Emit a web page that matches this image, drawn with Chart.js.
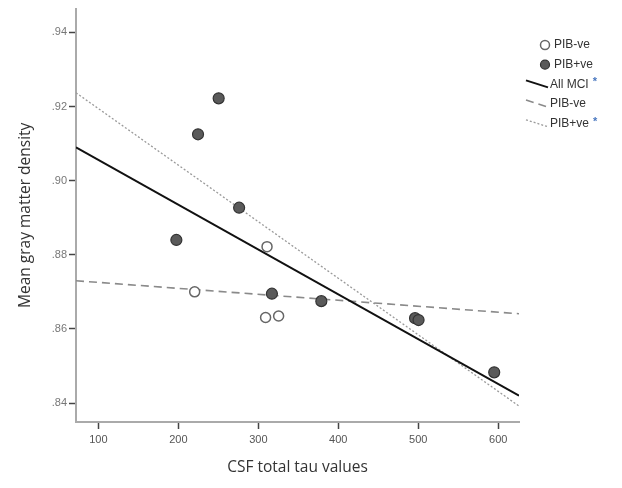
<!DOCTYPE html>
<html>
<head>
<meta charset="utf-8">
<script src="https://cdn.jsdelivr.net/npm/chart.js@4"></script>
<style>
  html, body { margin: 0; padding: 0; background: #fff; }
  #wrap { width: 622px; height: 488px; }
</style>
</head>
<body>
<div id="wrap"><canvas id="chart" width="622" height="488"></canvas></div>
<script>
// values
const pibNegTau = [310.9, 220.4, 309.1, 325.4];
const pibNegGm = [0.8822, 0.8700, 0.8631, 0.8635];
const pibPosTau = [250.4, 224.6, 276, 197.5, 317, 378.8, 496, 500.4, 595];
const pibPosGm = [0.9222, 0.9125, 0.8927, 0.8840, 0.8695, 0.8675, 0.8629, 0.8624, 0.8483];

// fit lines, end values at the axis edges
const lineTau = [72, 626];
const allMciGm = [0.909, 0.842];
const negFitGm = [0.873, 0.8641];
const posFitGm = [0.9237, 0.8392];

const xTicks = [100, 200, 300, 400, 500, 600];
const yTicks = [0.84, 0.86, 0.88, 0.90, 0.92, 0.94];
const legendLabels = ['PIB-ve', 'PIB+ve', 'All MCI', 'PIB-ve', 'PIB+ve'];
const legendStar = [false, false, true, false, true];

const pts = (xs, ys) => xs.map((x, i) => ({ x: x, y: ys[i] }));
const tickFont = { family: "'Liberation Sans Narrow', 'Liberation Sans', Arial", size: 11 };
const titleFont = { family: "'Open Sans', 'Liberation Sans', Arial", size: 15.5 };

/** legend drawn at the right, line symbols slanted like the original */
const sideLegend = {
  id: 'sideLegend',
  afterDraw(chart) {
    const ctx = chart.ctx;
    const x0 = 545;
    ctx.save();
    ctx.font = "12px 'Liberation Sans', Arial";
    ctx.textBaseline = 'middle';
    chart.data.datasets.forEach((ds, i) => {
      const y = 45 + i * 19.7;
      if (ds.showLine) {
        ctx.strokeStyle = ds.borderColor;
        ctx.lineWidth = ds.borderWidth;
        ctx.setLineDash(ds.borderDash || []);
        ctx.beginPath();
        ctx.moveTo(x0 - 19, y - 4);
        ctx.lineTo(x0 + 3, y + 3);
        ctx.stroke();
        ctx.setLineDash([]);
      } else {
        ctx.fillStyle = ds.pointBackgroundColor;
        ctx.strokeStyle = ds.pointBorderColor;
        ctx.lineWidth = ds.pointBorderWidth;
        ctx.beginPath();
        ctx.arc(x0, y, 4.5, 0, Math.PI * 2);
        ctx.fill();
        ctx.stroke();
      }
      const tx = ds.showLine ? x0 + 5 : x0 + 9;
      ctx.fillStyle = '#333';
      ctx.textAlign = 'left';
      ctx.fillText(legendLabels[i], tx, y);
      if (legendStar[i]) {
        const w = ctx.measureText(legendLabels[i]).width;
        ctx.fillStyle = '#4a78c0';
        ctx.font = "bold 11px 'Liberation Sans', Arial";
        ctx.fillText('*', tx + w + 4, y - 2);
        ctx.font = "12px 'Liberation Sans', Arial";
      }
    });
    ctx.restore();
  }
};

new Chart(document.getElementById('chart'), {
  type: 'scatter',
  data: {
    datasets: [
      {
        label: 'PIB-ve',
        data: pts(pibNegTau, pibNegGm),
        pointRadius: 5,
        pointBackgroundColor: '#ffffff',
        pointBorderColor: '#666666',
        pointBorderWidth: 1.5,
        order: 0
      },
      {
        label: 'PIB+ve',
        data: pts(pibPosTau, pibPosGm),
        pointRadius: 5.5,
        pointBackgroundColor: '#5a5a5a',
        pointBorderColor: '#333333',
        pointBorderWidth: 1.2,
        order: 0
      },
      {
        label: 'All MCI',
        data: pts(lineTau, allMciGm),
        showLine: true,
        borderColor: '#111111',
        borderWidth: 2,
        pointRadius: 0,
        order: 1
      },
      {
        label: 'PIB-ve fit',
        data: pts(lineTau, negFitGm),
        showLine: true,
        borderColor: '#8a8a8a',
        borderWidth: 1.6,
        borderDash: [8, 5],
        pointRadius: 0,
        order: 1
      },
      {
        label: 'PIB+ve fit',
        data: pts(lineTau, posFitGm),
        showLine: true,
        borderColor: '#9a9a9a',
        borderWidth: 1.3,
        borderDash: [2, 2],
        pointRadius: 0,
        order: 1
      }
    ]
  },
  options: {
    responsive: false,
    animation: false,
    layout: { padding: { top: 5, right: 103, left: 0, bottom: 0 } },
    plugins: { legend: { display: false }, tooltip: { enabled: false } },
    scales: {
      x: {
        type: 'linear',
        min: 72,
        max: 626,
        afterBuildTicks: s => { s.ticks = xTicks.map(v => ({ value: v })); },
        afterFit: s => { s.height = 66; },
        grid: { drawOnChartArea: false, tickLength: 7, tickWidth: 1.5, tickColor: '#444' },
        border: { color: '#aaaaaa', width: 2 },
        ticks: { color: '#555', font: tickFont, padding: 4 },
        title: { display: true, text: 'CSF total tau values', color: '#333', font: titleFont, padding: { top: 0, bottom: 11 } }
      },
      y: {
        type: 'linear',
        min: 0.8349,
        max: 0.9464,
        afterBuildTicks: s => { s.ticks = yTicks.map(v => ({ value: v })); },
        afterFit: s => { s.width = 76; },
        grid: { drawOnChartArea: false, tickLength: 7, tickWidth: 1.5, tickColor: '#444' },
        border: { color: '#aaaaaa', width: 2 },
        ticks: {
          color: '#777',
          font: tickFont,
          padding: 2,
          callback: v => v.toFixed(2).replace(/^0/, '')
        },
        title: { display: true, text: 'Mean gray matter density', color: '#333', font: titleFont, padding: { top: 16, bottom: 0 } }
      }
    }
  },
  plugins: [sideLegend]
});
</script>
</body>
</html>
